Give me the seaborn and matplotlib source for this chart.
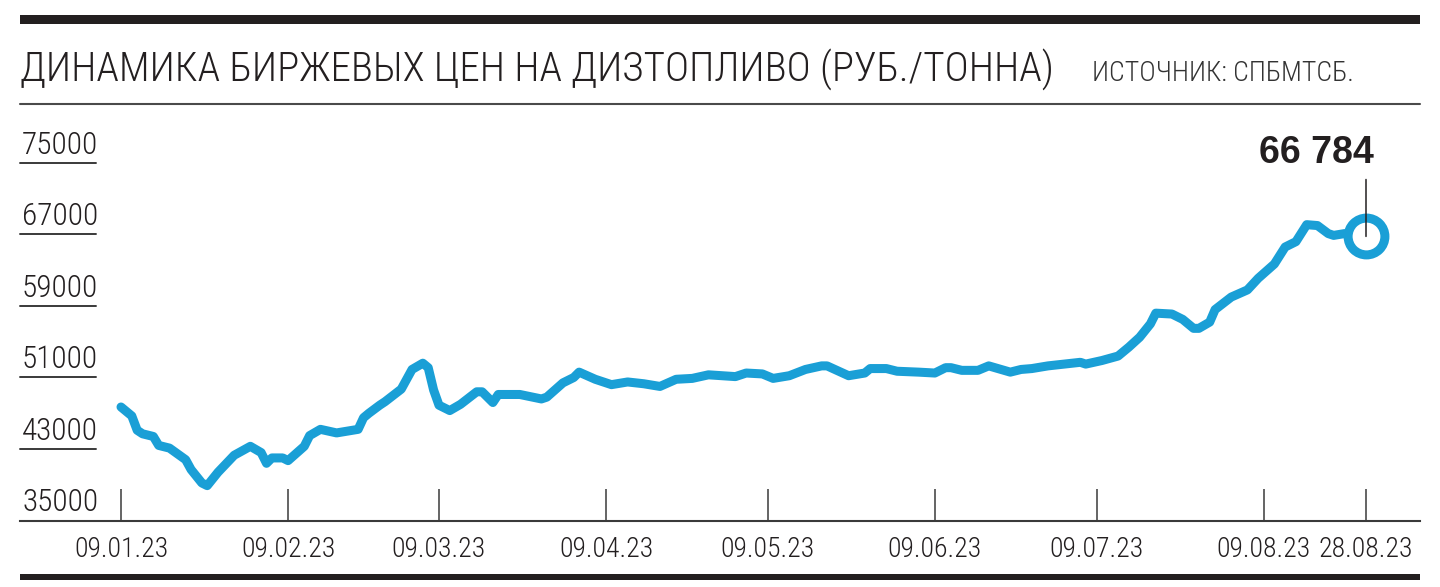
import pandas as pd
import matplotlib
matplotlib.use("Agg")
import matplotlib.pyplot as plt
import matplotlib.dates as mdates
import matplotlib.font_manager as fm
import matplotlib.transforms as mtransforms
from matplotlib.patches import Rectangle
from matplotlib.lines import Line2D
import seaborn as sns

# Data
dates = [
    "2023-01-09", "2023-01-11", "2023-01-12", "2023-01-13", "2023-01-15", "2023-01-16",
    "2023-01-18", "2023-01-21", "2023-01-22", "2023-01-24", "2023-01-25", "2023-01-27",
    "2023-01-30", "2023-02-02", "2023-02-04", "2023-02-05", "2023-02-06", "2023-02-08",
    "2023-02-09", "2023-02-12", "2023-02-13", "2023-02-15", "2023-02-18", "2023-02-19",
    "2023-02-22", "2023-02-23", "2023-02-24", "2023-02-26", "2023-02-27", "2023-03-02",
    "2023-03-04", "2023-03-06", "2023-03-07", "2023-03-08", "2023-03-09", "2023-03-11",
    "2023-03-13", "2023-03-16", "2023-03-17", "2023-03-19", "2023-03-20", "2023-03-24",
    "2023-03-28", "2023-03-29", "2023-04-01", "2023-04-03", "2023-04-04", "2023-04-07",
    "2023-04-10", "2023-04-13", "2023-04-16", "2023-04-19", "2023-04-22", "2023-04-25",
    "2023-04-28", "2023-05-03", "2023-05-05", "2023-05-08", "2023-05-10", "2023-05-13",
    "2023-05-16", "2023-05-19", "2023-05-20", "2023-05-24", "2023-05-27", "2023-05-28",
    "2023-05-31", "2023-06-02", "2023-06-06", "2023-06-09", "2023-06-11", "2023-06-12",
    "2023-06-14", "2023-06-17", "2023-06-19", "2023-06-23", "2023-06-25", "2023-06-27",
    "2023-06-30", "2023-07-03", "2023-07-06", "2023-07-07", "2023-07-10", "2023-07-13",
    "2023-07-15", "2023-07-17", "2023-07-19", "2023-07-20", "2023-07-23", "2023-07-25",
    "2023-07-27", "2023-07-28", "2023-07-30", "2023-07-31", "2023-08-03", "2023-08-06",
    "2023-08-08", "2023-08-11", "2023-08-13", "2023-08-15", "2023-08-17", "2023-08-19",
    "2023-08-21", "2023-08-22", "2023-08-24", "2023-08-28",
]
prices = [
    47700, 46700, 45100, 44700, 44400, 43400, 43100, 41800, 40700, 39200,
    38900, 40400, 42300, 43300, 42600, 41400, 42000, 42000, 41700, 43300,
    44500, 45200, 44800, 44900, 45200, 46500, 47000, 47900, 48300, 49700,
    51900, 52600, 52100, 49600, 47900, 47300, 48000, 49400, 49400, 48200,
    49100, 49100, 48600, 48800, 50400, 51000, 51600, 50800, 50200, 50500,
    50300, 50000, 50800, 50900, 51300, 51100, 51500, 51400, 50900, 51200,
    51900, 52300, 52300, 51200, 51500, 52000, 52000, 51700, 51600, 51500,
    52100, 52100, 51800, 51800, 52300, 51600, 51900, 52000, 52300, 52500,
    52700, 52500, 52900, 53400, 54400, 55500, 57000, 58200, 58100, 57500,
    56500, 56500, 57200, 58600, 60000, 60800, 62100, 63700, 65600, 66200,
    68100, 68000, 67100, 66900, 67100, 66784,
]
y_ticks = [35000, 43000, 51000, 59000, 67000, 75000]
tick_dates = ["2023-01-09", "2023-02-09", "2023-03-09", "2023-04-09", "2023-05-09",
              "2023-06-09", "2023-07-09", "2023-08-09", "2023-08-28"]
tick_labels = ["09.01.23", "09.02.23", "09.03.23", "09.04.23", "09.05.23",
               "09.06.23", "09.07.23", "09.08.23", "28.08.23"]
title = "ДИНАМИКА БИРЖЕВЫХ ЦЕН НА ДИЗТОПЛИВО (РУБ./ТОННА)"
source = "ИСТОЧНИК: СПБМТСБ."
last_label = "66 784"

BLUE = "#1a9fd6"
INK = "#231f20"

sns.set_theme(style="white")

# pick a condensed face with Cyrillic if there is one
installed = {f.name for f in fm.fontManager.ttflist}
narrow = "Liberation Sans"
for cand in ["Roboto Condensed", "PT Sans Narrow", "Fira Sans Condensed",
             "IBM Plex Sans Condensed", "Liberation Sans Narrow"]:
    if cand in installed:
        narrow = cand
        break
plt.rcParams["font.family"] = [narrow, "DejaVu Sans"]
plt.rcParams["font.weight"] = 300

W, H = 1440, 587
fig = plt.figure(figsize=(W / 100, H / 100), dpi=100)


def fx(px):
    return px / W


def fy(py):
    return 1 - py / H


# Plot area: 35000 sits on the bottom rule, 75000 at the top line
ax = fig.add_axes([fx(20), fy(520.5), 1400 / W, (520.5 - 163) / H])

df = pd.DataFrame({"date": pd.to_datetime(dates), "price": prices})
sns.lineplot(data=df, x="date", y="price", ax=ax, color=BLUE, linewidth=6.5,
             solid_capstyle="round", solid_joinstyle="round", zorder=3)

x0 = mdates.date2num(pd.Timestamp(tick_dates[0]))
x1 = mdates.date2num(pd.Timestamp(tick_dates[-1]))
ppd = (1366 - 121) / (x1 - x0)
ax.set_xlim(x0 - (121 - 20) / ppd, x1 + (1420 - 1366) / ppd)
ax.set_ylim(y_ticks[0], y_ticks[-1])

# Axes styling
for side in ["top", "right", "left"]:
    ax.spines[side].set_visible(False)
ax.spines["bottom"].set_color("#3a3a3a")
ax.spines["bottom"].set_linewidth(1.5)
ax.set_xlabel("")
ax.set_ylabel("")
ax.set_yticks([])
ax.set_xticks(pd.to_datetime(tick_dates))
ax.set_xticklabels(tick_labels)
ax.tick_params(axis="x", direction="in", length=23, width=1.1, color="#3a3a3a",
               pad=11, labelsize=20, labelcolor=INK, bottom=True)

# y labels sitting above short rules
ytrans = ax.get_yaxis_transform()
lab_trans = mtransforms.offset_copy(ytrans, fig=fig, x=2, y=9, units="dots")
for v in y_ticks:
    if v != y_ticks[0]:
        ax.plot([0, 76 / 1400], [v, v], transform=ytrans, color="#3a3a3a", lw=1.4,
                clip_on=False, zorder=1)
    ax.text(0, v, str(v), transform=lab_trans, ha="left", va="baseline",
            fontsize=22.5, color=INK)

# Last value marker with callout
last_x = df["date"].iloc[-1]
last_y = df["price"].iloc[-1]
ax.plot([last_x], [last_y], marker="o", ms=26.5, mfc="white", mec=BLUE, mew=6.5,
        clip_on=False, zorder=5)
ax.annotate("", xy=(last_x, last_y), xytext=(0, 41), textcoords="offset points",
            arrowprops=dict(arrowstyle="-", color=INK, lw=1.1, shrinkA=0, shrinkB=0),
            zorder=6)
ax.annotate(last_label, xy=(last_x, last_y), xytext=(6, 53), textcoords="offset points",
            ha="right", va="baseline", fontsize=27, fontweight="bold",
            family=["Liberation Sans", "DejaVu Sans"], color=INK, zorder=6)

# Header and rules
fig.add_artist(Rectangle((fx(20), fy(24)), 1400 / W, 9 / H, transform=fig.transFigure,
                         color=INK, lw=0))
fig.text(fx(20), fy(81), title, fontsize=29.5, color=INK, va="baseline")
fig.text(fx(1092), fy(81), source, fontsize=20, color="#333333", va="baseline")
fig.add_artist(Line2D([fx(20), fx(1420)], [fy(104), fy(104)], transform=fig.transFigure,
                      color="#4a4a4a", lw=1.5))
fig.add_artist(Rectangle((fx(20), fy(580)), 1400 / W, 6.5 / H, transform=fig.transFigure,
                         color=INK, lw=0))

fig.savefig("out.png", dpi=100, facecolor="white")
